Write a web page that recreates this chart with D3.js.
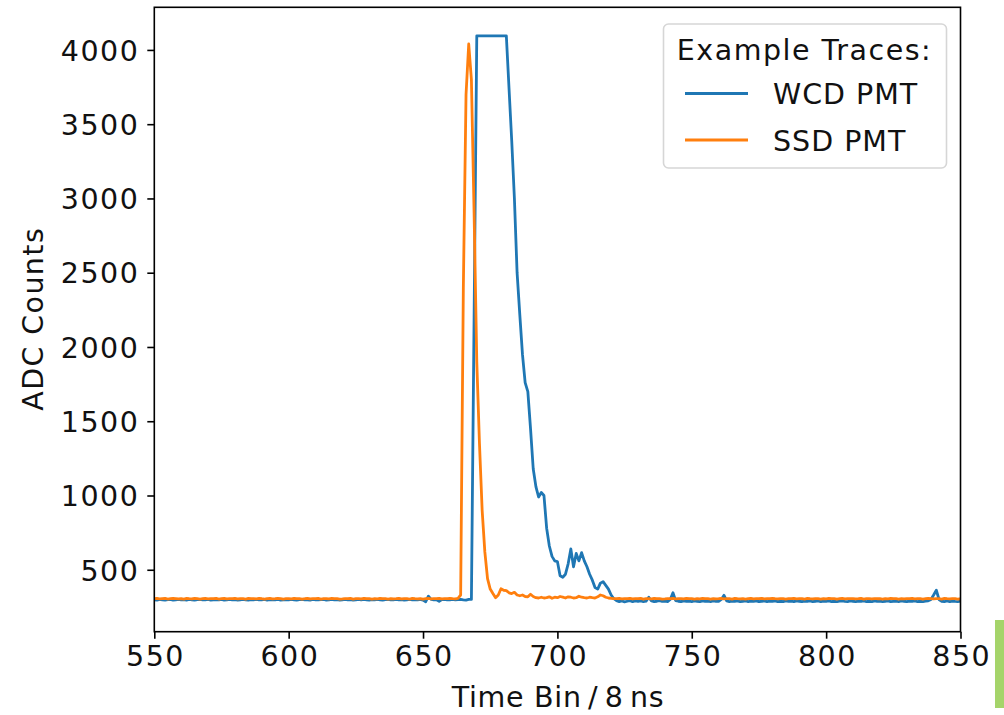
<!DOCTYPE html>
<html>
<head>
<meta charset="utf-8">
<script src="https://cdn.jsdelivr.net/npm/d3@7"></script>
<style>
  body { margin: 0; background: #fff; }
  svg { display: block; font-family: "DejaVu Sans", sans-serif; }
</style>
</head>
<body>
<div id="vis"></div>
<script>
// first time bin of the traces, one value per bin after that
var firstBin = 550;

// WCD PMT (blue), bins 550..850
var wcdAdc = [
  298,296,300,297,295,299,301,296,298,300,
  297,299,296,300,298,295,299,301,297,298,
  300,296,298,299,297,301,296,298,300,297,
  299,296,298,300,297,295,299,298,301,297,
  298,300,296,299,297,298,300,296,298,299,
  297,300,298,296,299,301,297,298,296,300,
  298,297,299,300,296,298,301,297,299,296,
  298,300,297,299,296,298,300,297,301,298,
  296,299,297,300,298,296,299,301,297,298,
  300,297,299,296,298,300,297,299,298,301,
  296,285,322,300,297,298,288,299,300,297,
  298,300,297,299,301,298,296,300,300,2200,
  4095,4095,4095,4095,4095,4095,4095,4095,4095,4095,
  4095,4095,3740,3390,3000,2500,2220,1950,1760,1700,
  1450,1180,1060,990,1020,1000,780,660,590,560,
  555,460,450,470,540,640,520,610,560,615,
  560,520,470,430,380,370,410,420,395,370,
  330,305,292,286,290,284,288,292,285,290,
  287,291,286,289,315,290,286,288,292,287,
  289,286,300,345,292,288,285,290,287,289,
  286,290,288,285,291,287,289,286,290,288,
  287,300,328,291,286,289,287,290,285,288,
  290,286,289,287,291,285,288,290,286,289,
  287,291,286,288,285,290,287,289,286,291,
  288,285,289,287,290,286,288,291,285,289,
  287,290,286,288,285,289,291,287,286,290,
  288,285,289,287,290,286,288,285,291,287,
  289,286,288,290,285,287,289,286,290,288,
  285,289,287,290,286,288,285,289,291,300,
  330,362,300,288,286,290,285,289,287,286,
  288
];

// SSD PMT (orange), bins 550..850
var ssdAdc = [
  305,307,304,306,308,303,305,307,306,304,
  306,303,307,305,304,308,306,303,305,307,
  304,306,305,308,303,306,307,304,305,306,
  307,304,306,305,303,307,305,306,304,308,
  305,303,306,307,304,305,308,306,303,305,
  306,304,307,305,306,303,305,308,304,306,
  305,307,303,306,305,304,307,305,306,303,
  304,306,305,307,303,305,306,304,308,305,
  306,303,305,304,307,306,305,303,306,304,
  305,307,304,306,305,303,307,305,304,306,
  303,305,307,304,306,305,308,304,305,306,
  307,305,304,308,330,2400,3700,4040,3800,2900,
  1900,1350,900,620,440,370,340,312,330,372,
  362,360,345,340,348,330,325,330,320,318,
  335,320,312,310,315,310,312,318,308,315,
  312,320,316,310,318,315,310,312,322,315,
  312,310,315,312,310,318,330,325,315,310,
  308,306,305,307,304,306,305,308,304,306,
  305,307,303,306,305,304,307,305,306,303,
  304,306,305,307,304,305,306,304,308,305,
  306,303,305,304,307,306,305,303,306,304,
  305,307,304,306,305,303,307,305,304,306,
  303,305,307,304,306,305,308,304,305,306,
  307,305,304,306,305,303,306,305,307,304,
  305,306,303,307,305,304,306,305,303,306,
  304,307,305,306,303,305,307,304,306,305,
  306,304,305,307,303,306,305,304,306,305,
  305,303,306,304,307,305,306,303,305,304,
  306,305,307,304,305,306,303,305,307,306,
  304,306,305,303,307,305,304,306,305,303,
  305
];

var xTicks = [550, 600, 650, 700, 750, 800, 850];
var yTicks = [500, 1000, 1500, 2000, 2500, 3000, 3500, 4000];

var seriesNames = ["WCD PMT", "SSD PMT"];
var seriesColors = ["#1f77b4", "#ff7f0e"];
var legendTitle = "Example Traces:";

var width = 1004;
var height = 715;
var plot = { left: 154.3, right: 960.5, top: 7.3, bottom: 631.7 };
var textColor = "#111";
var fontSize = "28.5px";

var svg = d3.select("#vis").append("svg")
    .attr("width", width)
    .attr("height", height);

var x = d3.scaleLinear().domain([550, 850]).range([plot.left, plot.right]);
var y = d3.scaleLinear().domain([83, 4287]).range([plot.bottom, plot.top]);

// clip the traces to the axes box
svg.append("clipPath").attr("id", "clip")
  .append("rect")
    .attr("x", plot.left)
    .attr("y", plot.top)
    .attr("width", plot.right - plot.left)
    .attr("height", plot.bottom - plot.top);

var line = d3.line()
    .x(function(d, i) { return x(firstBin + i); })
    .y(function(d) { return y(d); });

[wcdAdc, ssdAdc].forEach(function(trace, k) {
  svg.append("path")
      .datum(trace)
      .attr("clip-path", "url(#clip)")
      .attr("d", line)
      .style("fill", "none")
      .style("stroke", seriesColors[k])
      .style("stroke-width", 2.8)
      .style("stroke-linejoin", "round")
      .style("stroke-linecap", "square");
});

// axes
var xAxis = svg.append("g")
    .attr("transform", "translate(0," + plot.bottom + ")")
    .call(d3.axisBottom(x).tickValues(xTicks).tickSize(7).tickPadding(7).tickFormat(d3.format("d")));
var yAxis = svg.append("g")
    .attr("transform", "translate(" + plot.left + ",0)")
    .call(d3.axisLeft(y).tickValues(yTicks).tickSize(7).tickPadding(8).tickFormat(d3.format("d")));

[xAxis, yAxis].forEach(function(g) {
  g.select(".domain").remove();
  g.selectAll(".tick line").style("stroke", "#000").style("stroke-width", 1.6);
  g.selectAll(".tick text")
      .style("font-family", "DejaVu Sans")
      .style("font-size", fontSize)
      .style("letter-spacing", "1.5px")
      .style("fill", textColor);
});
yAxis.selectAll(".tick text").attr("dy", "0.36em");
xAxis.selectAll(".tick text").attr("dx", "0.75px");

// frame
svg.append("rect")
    .attr("x", plot.left)
    .attr("y", plot.top)
    .attr("width", plot.right - plot.left)
    .attr("height", plot.bottom - plot.top)
    .style("fill", "none")
    .style("stroke", "#000")
    .style("stroke-width", 1.6);

// axis labels
svg.append("text")
    .attr("x", (plot.left + plot.right) / 2 + 0.6)
    .attr("y", 707)
    .attr("text-anchor", "middle")
    .style("font-size", fontSize)
    .style("letter-spacing", "0.7px")
    .style("fill", textColor)
    .text("Time Bin\u2009/\u20098\u2009ns");

svg.append("text")
    .attr("transform", "translate(43," + ((plot.top + plot.bottom) / 2 - 0.7) + ") rotate(-90)")
    .attr("text-anchor", "middle")
    .style("font-size", fontSize)
    .style("letter-spacing", "1.4px")
    .style("fill", textColor)
    .text("ADC Counts");

// legend
var legend = svg.append("g").attr("id", "legend");
legend.append("rect")
    .attr("x", 663.5)
    .attr("y", 24)
    .attr("width", 283)
    .attr("height", 144)
    .attr("rx", 5)
    .style("fill", "#fff")
    .style("fill-opacity", 0.8)
    .style("stroke", "#d6d6d6")
    .style("stroke-width", 1.6);
legend.append("text")
    .attr("x", 804.5)
    .attr("y", 60)
    .attr("text-anchor", "middle")
    .style("font-size", fontSize)
    .style("letter-spacing", "1.5px")
    .style("fill", textColor)
    .text(legendTitle);

seriesNames.forEach(function(name, k) {
  var ly = 93.5 + k * 46.5;
  legend.append("line")
      .attr("x1", 685)
      .attr("x2", 748)
      .attr("y1", ly)
      .attr("y2", ly)
      .style("stroke", seriesColors[k])
      .style("stroke-width", 2.8);
  legend.append("text")
      .attr("x", 773)
      .attr("y", ly + 10.5)
      .style("font-size", fontSize)
      .style("letter-spacing", "1px")
      .style("fill", textColor)
      .text(name);
});

// green strip at the right edge of the picture
svg.append("rect")
    .attr("x", 995)
    .attr("y", 620)
    .attr("width", 9)
    .attr("height", 88)
    .style("fill", "#a5d46a");
</script>
</body>
</html>
